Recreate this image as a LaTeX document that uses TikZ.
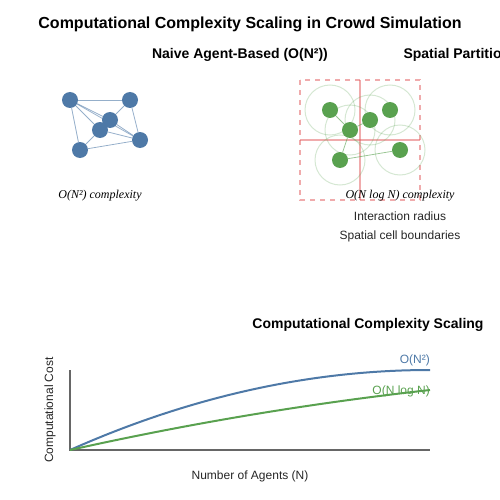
\documentclass[tikz,border=0pt]{standalone}
\usepackage{fontspec}
\setmainfont{Liberation Sans}
\newfontfamily\serifit{Liberation Serif}
\definecolor{agentblue}{HTML}{4E79A7}
\definecolor{agentgreen}{HTML}{59A14F}
\definecolor{cellred}{HTML}{E15759}
\definecolor{axisgray}{HTML}{666666}
\tikzset{
  naiveagent/.style={circle, fill=agentblue, inner sep=0pt, minimum size=16pt},
  gridagent/.style={circle, fill=agentgreen, inner sep=0pt, minimum size=16pt},
  naivelink/.style={agentblue, opacity=.6, line width=.8pt},
  gridlink/.style={agentgreen, opacity=.6, line width=.8pt},
  radiusring/.style={agentgreen, opacity=.25, line width=1pt},
  cellline/.style={cellred, opacity=.5, line width=1.5pt},
  heading/.style={font=\bfseries\fontsize{14}{16}\selectfont},
  plaintext/.style={font=\fontsize{12}{14}\selectfont, text=black!85},
  complexitytext/.style={font=\serifit\itshape\fontsize{12}{14}\selectfont}
}
\begin{document}
\begin{tikzpicture}[x=1pt,y=-1pt]
\useasboundingbox (0,0) rectangle (500,500);

\node[font=\bfseries\fontsize{16}{18}\selectfont] (title) at (250,24) {Computational Complexity Scaling in Crowd Simulation};
\node[heading] (naivehead) at (240,55) {Naive Agent-Based (O(N²))};
\node[heading, anchor=west] (gridhead) at (400,55) {Spatial Partitioning (O(N log N))};

% naive: everyone checks everyone
\foreach \name/\x/\y in {a/70/100, b/130/100, c/110/120, d/100/130, e/140/140, f/80/150}
  \node[naiveagent] (\name) at (\x,\y) {};
\foreach \u/\v in {a/b, a/c, a/d, a/e, a/f, b/c, b/e, c/e, c/d, d/e, d/f, f/e}
  \draw[naivelink] (\u) -- (\v);
\node[complexitytext] (naivelabel) at (100,196) {O(N²) complexity};

% spatial grid
\draw[cellline, dash pattern=on 5pt off 5pt] (300,80) rectangle (420,200);
\draw[cellline] (360,80) -- (360,200);
\draw[cellline] (300,140) -- (420,140);
\foreach \name/\x/\y in {g/330/110, h/390/110, i/370/120, j/350/130, k/400/150, l/340/160}
  \node[gridagent] (\name) at (\x,\y) {};
\foreach \name in {g,h,i,j,k,l}
  \draw[radiusring] (\name) circle[radius=25pt];
\foreach \u/\v in {g/j, j/i, j/l, l/k}
  \draw[gridlink] (\u) -- (\v);
\node[complexitytext] (gridlabel) at (400,196) {O(N log N) complexity};
\node[plaintext] (radiuslabel) at (400,216) {Interaction radius};
\node[plaintext] (celllabel) at (400,236) {Spatial cell boundaries};

% scaling chart
\node[heading] (charthead) at (368,325) {Computational Complexity Scaling};
\coordinate (origin) at (70,450);
\coordinate (ytop) at (70,370);
\coordinate (xend) at (430,450);
\coordinate (bluend) at (430,370);
\coordinate (greenend) at (430,390);
\draw[axisgray, line width=2pt] (ytop) -- (origin) -- (xend);
\draw[agentblue, line width=2pt] (origin) .. controls (190,396.7) and (310,370) .. (bluend);
\draw[agentgreen, line width=2pt] (origin) .. controls (190,423.3) and (310,403.3) .. (greenend);
\node[plaintext, text=agentblue, anchor=south east, inner xsep=0pt] (bluelabel) at (bluend) {O(N²)};
\node[plaintext, text=agentgreen, anchor=east, inner xsep=0pt, yshift=-1pt] (greenlabel) at (greenend) {O(N log N)};
\node[plaintext, rotate=90] (ylabel) at (50,410) {Computational Cost};
\node[plaintext] (xlabel) at (250,476) {Number of Agents (N)};
\end{tikzpicture}
\end{document}
